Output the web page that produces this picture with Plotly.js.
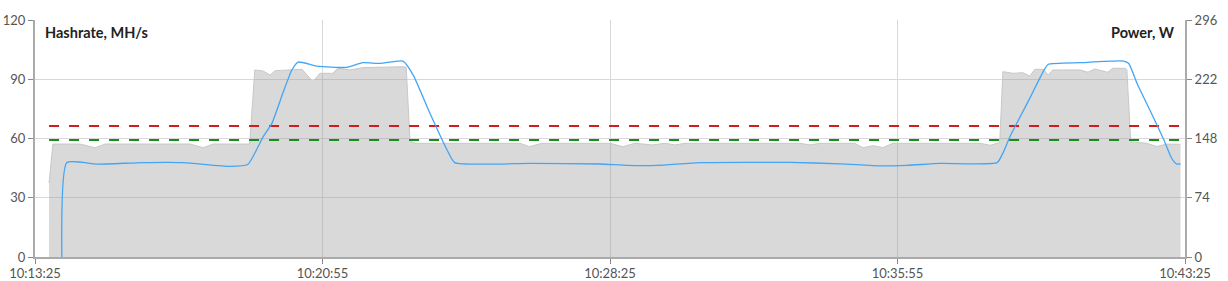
<!DOCTYPE html>
<html>
<head>
<meta charset="utf-8">
<script src="https://cdn.plot.ly/plotly-3.0.1.min.js"></script>
<style>html,body{margin:0;padding:0;background:#fff}#chart{width:1228px;height:281px}</style>
</head>
<body>
<div id="chart"></div>
<script>
const DAY = '2000-01-01 ';
const hashTimes = ['10:14:07','10:14:15','10:15:02','10:16:14','10:17:17','10:18:30','10:18:58','10:19:22','10:19:36','10:19:53','10:20:07','10:20:17','10:20:46','10:21:33','10:21:58','10:22:25','10:23:01','10:23:17','10:23:43','10:24:10','10:24:22','10:26:20','10:28:09','10:28:52','10:29:39','10:30:46','10:33:07','10:34:25','10:35:28','10:36:10','10:37:01','10:38:31','10:38:40','10:38:51','10:39:07','10:39:22','10:39:35','10:39:46','10:39:51','10:40:41','10:41:49','10:41:57','10:42:10','10:42:30','10:42:52','10:43:04','10:43:12','10:43:18'];
const hashrate = [0,47.8,47.0,47.8,47.8,45.9,46.8,60.8,67.8,83.0,94.7,98.7,96.7,96.0,98.4,98.0,99.2,92.1,72.9,54.2,47.8,47.4,47.1,46.4,46.4,47.8,47.9,47.2,46.1,46.4,47.4,47.8,52.6,60.9,71.0,80.3,88.8,95.5,97.6,98.4,99.2,98.0,87.9,74.4,59.2,50.0,47.1,47.1];

const powerTimes = ['10:13:47','10:13:53','10:14:35','10:14:59','10:15:15','10:17:28','10:17:48','10:18:04','10:19:01','10:19:09','10:19:22','10:19:33','10:19:41','10:20:23','10:20:40','10:20:51','10:21:11','10:21:19','10:21:38','10:21:58','10:23:01','10:23:06','10:23:12','10:23:20','10:26:04','10:26:19','10:26:38','10:28:25','10:28:45','10:29:04','10:29:32','10:29:51','10:30:07','10:30:22','10:33:22','10:33:38','10:33:54','10:34:48','10:35:01','10:35:17','10:35:32','10:35:48','10:38:04','10:38:20','10:38:31','10:38:35','10:38:40','10:38:56','10:39:11','10:39:22','10:39:30','10:39:43','10:39:51','10:39:58','10:40:41','10:40:53','10:41:04','10:41:24','10:41:32','10:41:51','10:41:54','10:42:00','10:42:25','10:42:41','10:42:56','10:43:18'];
const power = [92.4,141.0,141.1,136.5,141.1,141.1,136.5,141.1,141.1,233.6,232.3,227.3,232.7,234.4,219.0,229.4,229.4,235.7,233.6,236.5,237.7,237.0,145.0,142.0,142.0,137.8,142.0,142.0,137.8,142.0,140.0,142.0,140.0,142.0,142.0,140.0,142.0,142.0,136.5,139.0,136.5,142.0,142.0,139.5,142.0,143.0,231.5,229.4,230.2,226.0,234.4,234.4,227.3,233.6,233.6,230.7,234.8,230.7,235.7,235.7,234.0,144.0,142.0,138.0,141.0,140.8];

const lineTimes = ['10:13:47','10:43:18'];
const redLevel = [66.3,66.3];
const greenLevel = [59.2,59.2];

const hashTicks = [0,30,60,90,120];
const powerTicks = [0,74,148,222,296];
const xStart = '10:13:25', xEnd = '10:43:25';

const d = a => a.map(t => DAY + t);
const FONT = 'Lato, "Open Sans", sans-serif';

const traces = [
  {x: d(powerTimes), y: power, yaxis: 'y', type: 'scatter', mode: 'lines', fill: 'tozeroy',
   fillcolor: 'rgba(160,160,160,0.4)', line: {color: 'rgb(200,200,200)', width: 1}, hoverinfo: 'none'},
  {x: d(lineTimes), y: redLevel, yaxis: 'y2', type: 'scatter', mode: 'lines',
   line: {color: '#d01c1c', width: 2, dash: '10px,10px'}, hoverinfo: 'none'},
  {x: d(lineTimes), y: greenLevel, yaxis: 'y2', type: 'scatter', mode: 'lines',
   line: {color: '#1a8c1a', width: 2, dash: '10px,10px'}, hoverinfo: 'none'},
  {x: d(hashTimes), y: hashrate, yaxis: 'y2', type: 'scatter', mode: 'lines',
   line: {color: '#42a5f5', width: 1.3, shape: 'spline', smoothing: 0.5}, hoverinfo: 'none'}
];

const layout = {
  width: 1228, height: 281,
  margin: {l: 35, r: 43, t: 20, b: 24, pad: 0},
  paper_bgcolor: '#fff', plot_bgcolor: '#fff',
  showlegend: false,
  font: {family: FONT, size: 13, color: '#555'},
  xaxis: {
    type: 'date', range: [DAY + xStart, DAY + xEnd],
    tick0: DAY + xStart, dtick: 450000, tickformat: '%H:%M:%S',
    showgrid: true, gridcolor: '#d8d8d8', gridwidth: 1,
    showline: true, linecolor: '#aaa', linewidth: 2,
    ticks: 'outside', ticklen: 5, tickcolor: '#888', tickwidth: 1, ticklabelstandoff: -2,
    zeroline: false, tickfont: {family: FONT, size: 13, color: '#555'}
  },
  yaxis: {
    side: 'right', range: [0, 296], tickvals: powerTicks, ticktext: powerTicks.map(String),
    showgrid: true, gridcolor: '#d8d8d8', gridwidth: 1,
    showline: true, linecolor: '#aaa', linewidth: 2,
    ticks: 'outside', ticklen: 5, tickcolor: '#888', tickwidth: 1,
    zeroline: false, tickfont: {family: FONT, size: 13, color: '#555'}
  },
  yaxis2: {
    overlaying: 'y', side: 'left', range: [0, 120], tickvals: hashTicks, ticktext: hashTicks.map(String),
    showgrid: false, showline: true, linecolor: '#aaa', linewidth: 2,
    ticks: 'outside', ticklen: 5, tickcolor: '#888', tickwidth: 1,
    zeroline: false, tickfont: {family: FONT, size: 13, color: '#555'}
  },
  annotations: [
    {text: '<b>Hashrate, MH/s</b>', xref: 'paper', yref: 'paper', x: 0, y: 1, xanchor: 'left', yanchor: 'top',
     xshift: 8, yshift: -2, showarrow: false, font: {family: FONT, size: 14.5, color: '#222'}},
    {text: '<b>Power, W</b>', xref: 'paper', yref: 'paper', x: 1, y: 1, xanchor: 'right', yanchor: 'top',
     xshift: -8, yshift: -2, showarrow: false, font: {family: FONT, size: 14.5, color: '#222'}}
  ]
};

Plotly.newPlot('chart', traces, layout, {displayModeBar: false, staticPlot: true});
</script>
</body>
</html>
